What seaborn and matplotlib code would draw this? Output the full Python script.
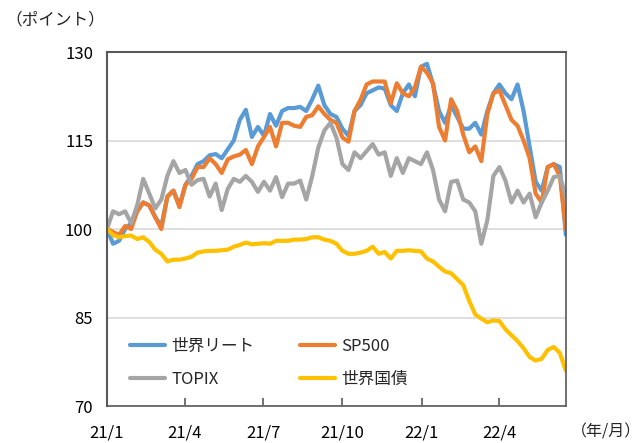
import matplotlib
matplotlib.use("Agg")
import matplotlib.pyplot as plt
import seaborn as sns
import pandas as pd
import numpy as np
from matplotlib.lines import Line2D

series_names = ["世界リート", "SP500", "TOPIX", "世界国債"]

reit = [100, 97.5, 98, 100, 101, 103, 104.5, 104, 102, 100.5,
        105.5, 106.5, 104, 107.5, 109, 111, 111.5, 112.5, 112.7, 112,
        113.5, 115, 118.5, 120.2, 115.6, 117.3, 115.8, 119.5, 117.5, 120,
        120.5, 120.5, 120.7, 120, 122, 124.3, 121, 119.5, 119, 117,
        115.8, 120, 121, 123, 123.5, 124, 123.8, 121, 120, 123,
        124.5, 122.5, 127.5, 128, 124.5, 120, 118, 121, 119, 117,
        117, 118, 116, 120, 123, 124.5, 123, 122, 124.5, 120,
        114, 108, 106.5, 110.5, 111, 110.5, 99]

sp500 = [100, 99.5, 99, 100.5, 100, 103, 104.5, 104, 102, 100,
         105.5, 106.5, 103.7, 107.5, 108.5, 110.5, 110.5, 112, 111, 109.5,
         111.8, 112.3, 112.6, 113.4, 111, 114, 115.6, 117.3, 114, 118,
         118, 117.5, 117.3, 119, 119.3, 120.8, 119.5, 118.5, 118, 115.5,
         114.8, 120, 121.9, 124.5, 125, 125, 125, 121.3, 124.7, 123,
         122.5, 124, 127.5, 126.5, 124.7, 117.3, 115, 122, 120, 116,
         113, 114, 111.5, 119.5, 123, 123.5, 121, 118.5, 117.5, 115,
         112, 106, 104.5, 110.5, 111, 109, 100]

topix = [100, 103, 102.5, 103, 101, 104, 108.5, 106, 103.5, 105,
         109, 111.5, 109.5, 110, 107.5, 108.3, 108.5, 105.5, 107.7, 103.2,
         106.8, 108.5, 108, 109, 108, 106.3, 108, 106.5, 108.8, 105.4,
         107.7, 107.7, 108.2, 105, 109, 113.8, 116.7, 118, 115.5, 111,
         110, 113, 112, 113.2, 114.4, 112.6, 113, 109, 112, 109.5,
         112, 111.5, 111, 113, 110, 105, 103, 108, 108.2, 105,
         104.5, 103, 97.5, 101.5, 109, 110.5, 108.2, 104.5, 106.5, 104.5,
         106, 102, 104.5, 106.5, 108.8, 109, 105.5]

bond = [100, 99, 98.6, 98.8, 98.9, 98.3, 98.6, 97.8, 96.5, 95.8,
        94.5, 94.8, 94.8, 95, 95.3, 96, 96.2, 96.3, 96.3, 96.4,
        96.5, 97, 97.3, 97.7, 97.4, 97.5, 97.6, 97.5, 98, 98,
        98, 98.2, 98.2, 98.3, 98.6, 98.6, 98.2, 98, 97.5, 96.3,
        95.8, 95.8, 96, 96.3, 97, 95.8, 96.1, 95, 96.3, 96.3,
        96.4, 96.3, 96.2, 95, 94.5, 93.6, 92.8, 92.5, 91.5, 90.5,
        87.8, 85.5, 84.8, 84.2, 84.5, 84.4, 83, 82, 81, 79.8,
        78.3, 77.7, 78, 79.5, 80, 79, 76]

tick_dates = ["2021-01-01", "2021-04-01", "2021-07-01", "2021-10-01", "2022-01-01", "2022-04-01"]
tick_labels = ["21/1", "21/4", "21/7", "21/10", "22/1", "22/4"]
y_ticks = [70, 85, 100, 115, 130]

dates = pd.date_range("2021-01-01", periods=len(reit), freq="7D")
df = pd.DataFrame({"date": dates, series_names[0]: reit, series_names[1]: sp500,
                   series_names[2]: topix, series_names[3]: bond})
long = df.melt(id_vars="date", var_name="series", value_name="value")

sns.set_theme(style="white")
plt.rcParams["font.family"] = ["Noto Sans CJK JP", "DejaVu Sans"]

fig = plt.figure(figsize=(6.43, 4.43), dpi=100)
ax = fig.add_axes([0.1664, 0.0835, 0.7136, 0.7991])

palette = {"世界リート": "#5B9BD5", "SP500": "#ED7D31", "TOPIX": "#A5A5A5", "世界国債": "#FFC000"}
sns.lineplot(data=long, x="date", y="value", hue="series", palette=palette,
             hue_order=series_names, linewidth=3, ax=ax, legend=False)

ax.set_xlim(dates[0], dates[-1])
ax.set_ylim(70, 130)
ax.set_yticks(y_ticks)
ax.set_xticks(pd.to_datetime(tick_dates))
ax.set_xticklabels(tick_labels)
ax.set_xlabel("")
ax.set_ylabel("")
ax.yaxis.grid(True, color="#D9D9D9", linewidth=1.2)
ax.xaxis.grid(False)
for s in ax.spines.values():
    s.set_color("#595959")
    s.set_linewidth(1.2)
ax.spines["top"].set_linewidth(1.5)
ax.spines["left"].set_linewidth(1.5)
ax.tick_params(axis="x", direction="in", length=6, width=1.2, color="#595959",
               labelsize=12, pad=13, labelcolor="#000000", bottom=True)
ax.tick_params(axis="y", length=0, labelsize=12, pad=10, labelcolor="#000000")

# column-major order so rows read: 世界リート, SP500 / TOPIX, 世界国債
leg_order = ["世界リート", "TOPIX", "SP500", "世界国債"]
handles = [Line2D([], [], color=palette[n], linewidth=3) for n in leg_order]
leg = ax.legend(handles, leg_order, ncol=2, loc="lower left",
                bbox_to_anchor=(0.017, 0.009), frameon=False, fontsize=12,
                handlelength=2.1, columnspacing=2.7, labelspacing=0.94,
                handletextpad=0.4)

fig.text(0.008, 0.955, "（ポイント）", fontsize=12, ha="left", va="center")
fig.text(0.997, 0.025, "（年/月）", fontsize=11.5, ha="right", va="center")

fig.savefig("out.png", dpi=100)
